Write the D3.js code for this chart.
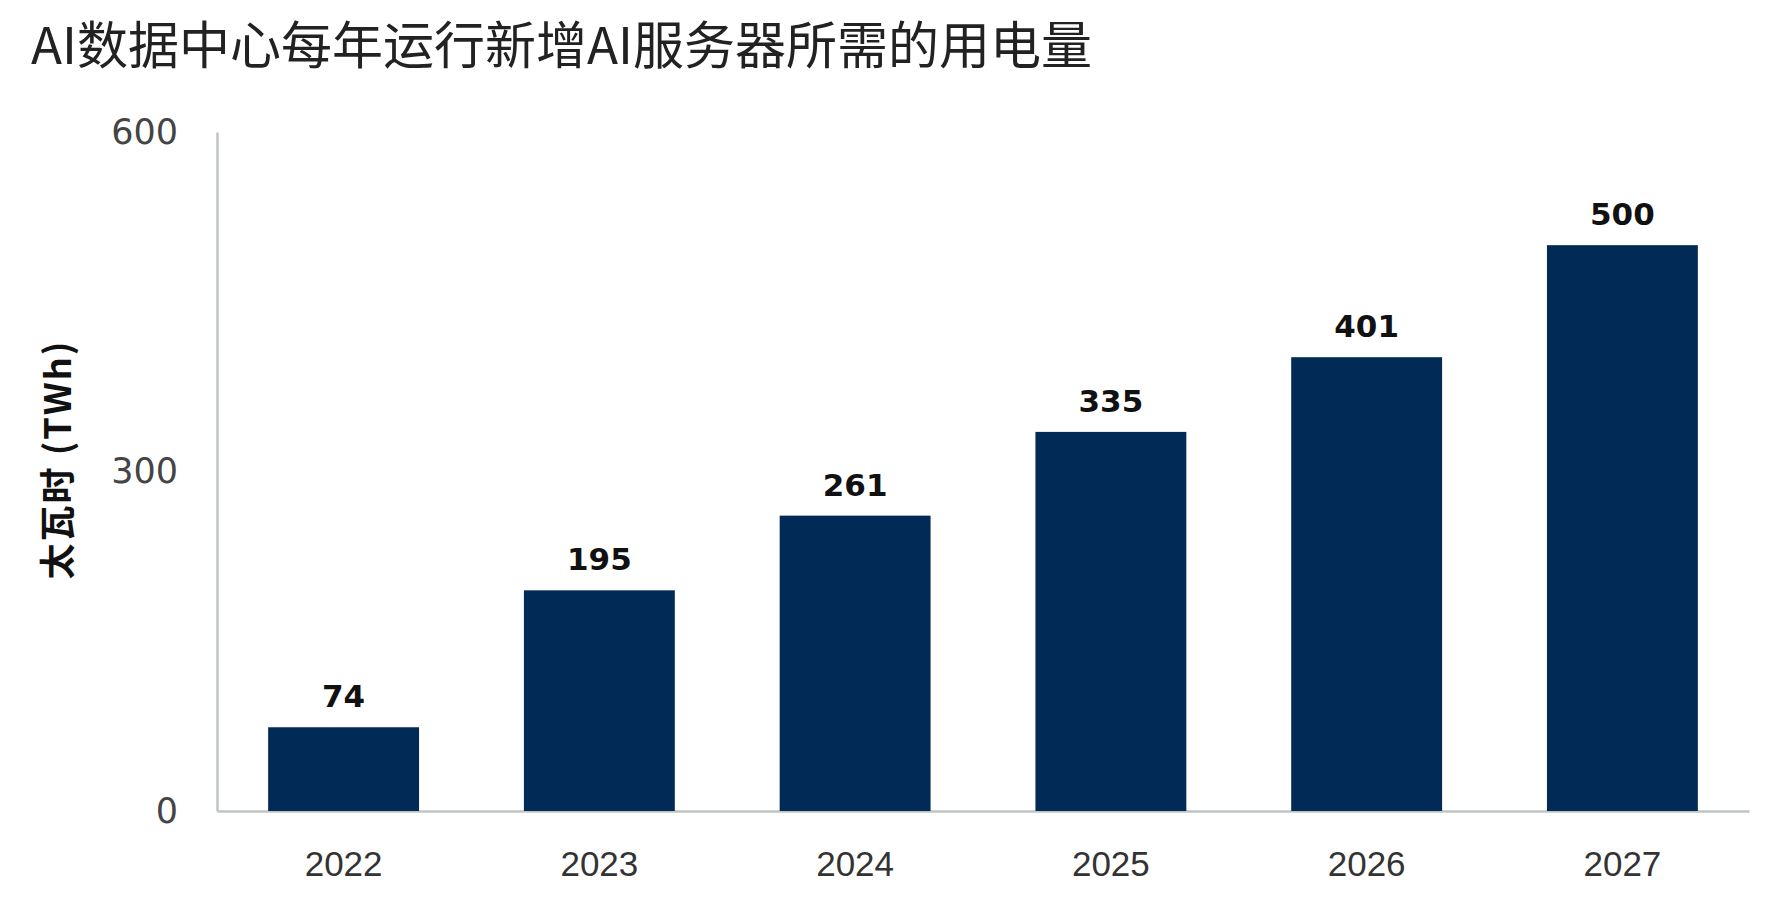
<!DOCTYPE html>
<html>
<head>
<meta charset="utf-8">
<script src="https://cdn.jsdelivr.net/npm/d3@7"></script>
<style>
  body { margin: 0; background: #fff; }
  .tick line { display: none; }
  .domain { stroke: #bfc4c4; stroke-width: 2.5; }
</style>
</head>
<body>
<div id="chart"></div>
<script>
// data
var years = ["2022", "2023", "2024", "2025", "2026", "2027"];
var power = [74, 195, 261, 335, 401, 500];
var yTicks = [0, 300, 600];

var width = 1775;
var height = 899;

var margin = { top: 132, right: 26, bottom: 88, left: 217 };
var chartWidth = width - margin.left - margin.right;
var chartHeight = height - margin.top - margin.bottom;

var svg = d3.select("#chart")
  .append("svg")
  .attr("width", width)
  .attr("height", height);

svg.append("text")
  .attr("x", 31)
  .attr("y", 64)
  .style("font-family", "'Noto Sans CJK SC'")
  .style("font-size", "51px")
  .style("fill", "#222")
  .text("AI数据中心每年运行新增AI服务器所需的用电量");

var chartGroup = svg.append("g")
  .attr("transform", `translate(${margin.left}, ${margin.top})`);

var xScale = d3.scaleBand()
  .domain(years)
  .range([0, chartWidth])
  .paddingInner(0.41)
  .paddingOuter(0.2);

var yScale = d3.scaleLinear()
  .domain([0, 600])
  .range([chartHeight, 0]);

var yAxis = d3.axisLeft(yScale).tickValues(yTicks).tickSize(0).tickPadding(39);
var xAxis = d3.axisBottom(xScale).tickSize(0).tickPadding(40);

var yG = chartGroup.append("g").call(yAxis);
yG.selectAll("text")
  .style("font-family", "'DejaVu Sans'")
  .style("font-size", "35px")
  .style("fill", "#444");

var xG = chartGroup.append("g")
  .attr("transform", `translate(0, ${chartHeight})`)
  .call(xAxis);
xG.selectAll("text")
  .style("font-family", "'Liberation Sans'")
  .style("font-size", "35px")
  .style("fill", "#333");

chartGroup.selectAll(".bar")
  .data(power)
  .enter()
  .append("rect")
  .attr("x", (d, i) => xScale(years[i]))
  .attr("y", d => yScale(d))
  .attr("width", xScale.bandwidth())
  .attr("height", d => chartHeight - yScale(d))
  .attr("fill", "#022a57");

chartGroup.selectAll(".val")
  .data(power)
  .enter()
  .append("text")
  .attr("x", (d, i) => xScale(years[i]) + xScale.bandwidth() / 2)
  .attr("y", d => yScale(d) - 20)
  .attr("text-anchor", "middle")
  .style("font-family", "'DejaVu Sans'")
  .style("font-weight", "bold")
  .style("font-size", "31px")
  .style("fill", "#111")
  .text(d => d);

chartGroup.append("text")
  .attr("transform", "rotate(-90)")
  .attr("x", -(yScale(300) - 12))
  .attr("y", -146)
  .attr("text-anchor", "middle")
  .style("font-family", "'Noto Sans CJK SC'")
  .style("font-weight", "bold")
  .style("font-size", "36px")
  .style("letter-spacing", "2px")
  .style("fill", "#111")
  .text("太瓦时 (TWh)");
</script>
</body>
</html>
